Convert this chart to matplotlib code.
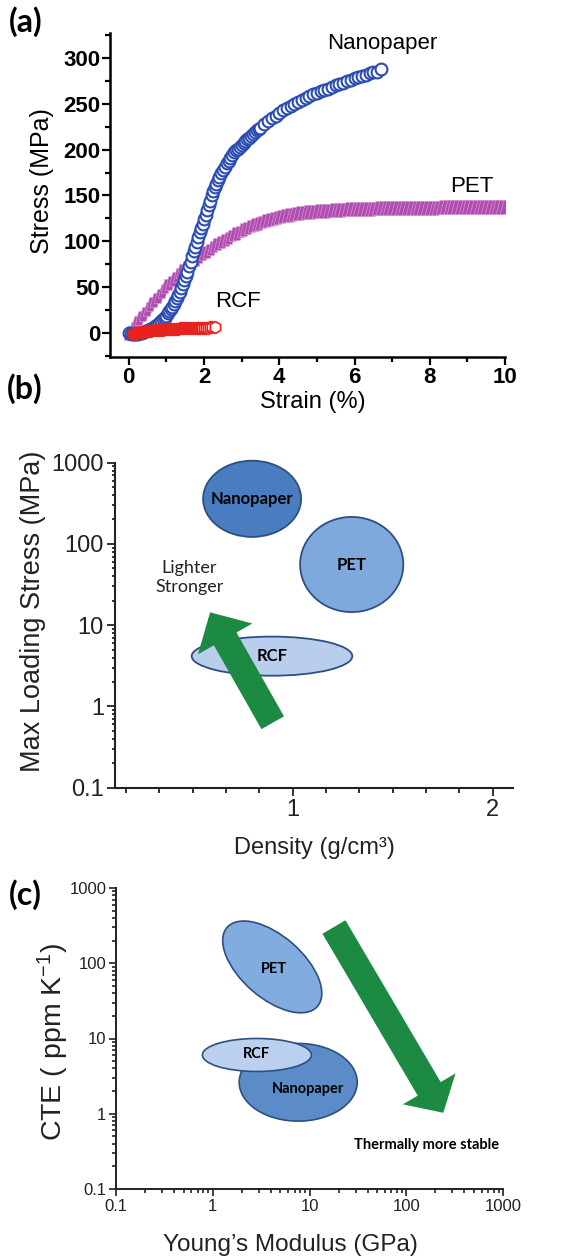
import numpy as np
import matplotlib
matplotlib.use("Agg")
import matplotlib.pyplot as plt
from matplotlib.patches import Ellipse, FancyArrowPatch
from matplotlib.path import Path
from matplotlib.ticker import MultipleLocator, FixedLocator, LogLocator, FuncFormatter, NullFormatter
import matplotlib.transforms as mtransforms

plt.rcParams['mathtext.fontset'] = 'custom'
plt.rcParams['mathtext.rm'] = 'Liberation Sans'
plt.rcParams['mathtext.it'] = 'Liberation Sans:italic'
plt.rcParams['font.family'] = ['Liberation Sans', 'DejaVu Sans']

# ---------------- (a) stress-strain data ----------------
nano_strain = [0.0, 0.05, 0.1, 0.15, 0.2, 0.25, 0.3, 0.35, 0.4, 0.45, 0.5, 0.55, 0.6, 0.65, 0.7,
               0.75, 0.8, 0.85, 0.9, 0.95,
               1.0, 1.04, 1.08, 1.12, 1.16, 1.2, 1.24, 1.28, 1.32, 1.36, 1.4, 1.44, 1.48,
               1.52, 1.56, 1.6, 1.64, 1.68, 1.72, 1.76, 1.8, 1.84, 1.88, 1.92, 1.96, 2.0,
               2.04, 2.08, 2.12, 2.16, 2.2, 2.24, 2.28, 2.32, 2.36, 2.4, 2.45, 2.5, 2.55,
               2.6, 2.65, 2.7, 2.75, 2.8, 2.85, 2.9, 2.95, 3.0, 3.05, 3.1, 3.15, 3.2, 3.25,
               3.3, 3.35, 3.4, 3.45, 3.5, 3.6, 3.7, 3.8, 3.9, 4.0, 4.1, 4.2, 4.3, 4.4, 4.5,
               4.6, 4.7, 4.8, 4.9, 5.0, 5.1, 5.2, 5.3, 5.4, 5.5, 5.6, 5.7, 5.8, 5.9, 6.0,
               6.1, 6.2, 6.3, 6.4, 6.5, 6.6, 6.7]
nano_stress = [0, -1, -1, -1, -1, -1, 0, 0, 1, 2, 3, 4, 5, 6, 8,
               9, 11, 13, 15, 17,
               19, 21.5, 24, 26.5, 29, 32, 35, 38.5, 42, 45, 49, 53, 57.5,
               62, 67, 73, 78, 83.5, 89, 94, 99, 105, 110, 115, 119, 124,
               129, 134.5, 140, 144.5, 150, 155, 159, 163, 166.5, 170, 174, 178, 181.5,
               185, 188, 191, 194, 197, 199, 201, 203, 205, 207, 209, 211, 213, 215,
               217, 219, 221, 222.5, 224, 228, 231, 234, 237, 240, 243, 245, 248, 250, 252,
               254, 256, 258, 260, 262, 264, 265, 266, 268, 270, 271, 273, 275, 276, 278,
               279, 280, 281, 283, 284, 285, 288]

pet_strain = [0.0, 0.1, 0.2, 0.3, 0.4, 0.5, 0.6, 0.7, 0.8, 0.9, 1.0, 1.1, 1.2, 1.3, 1.4,
              1.5, 1.6, 1.7, 1.8, 1.9, 2.0, 2.1, 2.2, 2.3, 2.4, 2.5, 2.6, 2.7, 2.8, 2.9,
              3.0, 3.1, 3.2, 3.3, 3.4, 3.5, 3.6, 3.7, 3.8, 3.9, 4.0, 4.1, 4.2, 4.3, 4.4,
              4.5, 4.6, 4.7, 4.8, 4.9, 5.0, 5.1, 5.2, 5.3, 5.4, 5.5, 5.6, 5.7, 5.8, 5.9,
              6.0, 6.1, 6.2, 6.3, 6.4, 6.5, 6.6, 6.7, 6.8, 6.9, 7.0, 7.1, 7.2, 7.3, 7.4,
              7.5, 7.6, 7.7, 7.8, 7.9, 8.0, 8.1, 8.2, 8.3, 8.4, 8.5, 8.6, 8.7, 8.8, 8.9,
              9.0, 9.1, 9.2, 9.3, 9.4, 9.5, 9.6, 9.7, 9.8, 9.9, 10.0]
pet_stress = [0, 5, 10.5, 16, 21, 26.5, 31.5, 36, 41, 46, 51, 55, 59, 63, 67.5,
              71.5, 75, 78, 81, 84, 87, 90, 93, 95.5, 98, 100.5, 103, 105, 107.5, 109.5,
              112, 114, 116, 117.5, 119, 120.5, 122, 123, 124.5, 125.5, 126.5, 127.5, 128.5, 129, 130,
              130.5, 131, 131.5, 132, 132.5, 133, 133, 133.5, 133.5, 134, 134, 134.5, 134.5, 135, 135,
              135, 135, 135.5, 135.5, 135.5, 135.5, 136, 136, 136, 136, 136, 136, 136, 136, 136.5,
              136.5, 136.5, 136.5, 136.5, 136.5, 136.5, 136.5, 136.5, 137, 137, 137, 137, 137, 137, 137,
              137, 137, 137, 137, 137, 137, 137, 137, 137, 137, 137]

rcf_strain = [0.1, 0.15, 0.2, 0.25, 0.3, 0.35, 0.4, 0.45, 0.5, 0.55, 0.6, 0.65, 0.7, 0.75,
              0.8, 0.85, 0.9, 0.95, 1.0, 1.05, 1.1, 1.15, 1.2, 1.25, 1.3, 1.35, 1.4, 1.45,
              1.5, 1.55, 1.6, 1.65, 1.7, 1.75, 1.8, 1.85, 1.9, 1.95, 2.0, 2.05, 2.1, 2.15,
              2.2, 2.3]
rcf_stress = [-1, -0.5, 0, 0.4, 0.8, 1.2, 1.5, 1.8, 2, 2.3, 2.6, 2.9, 3.1, 3.3,
              3.5, 3.7, 3.9, 4.0, 4.2, 4.35, 4.5, 4.65, 4.8, 4.9, 5.0, 5.1, 5.2, 5.3,
              5.4, 5.5, 5.6, 5.7, 5.8, 5.85, 5.9, 5.95, 6.0, 6.0, 6.1, 6.1, 6.1, 6.2,
              6.2, 6.3]

curve_names = ["Nanopaper", "PET", "RCF"]
curve_label_x = [6.73, 9.12, 2.89]
curve_label_y = [316, 160, 35]

# ---------------- (b) Ashby-type map: density vs max loading stress ----------------
b_names = ["Nanopaper", "PET", "RCF"]
b_density_lo = [0.552, 1.037, 0.495]
b_density_hi = [1.042, 1.553, 1.298]
b_stress_lo = [122, 14.5, 2.39]
b_stress_hi = [1059, 215, 7.24]
b_arrow_tail = (0.90, 0.63)
b_arrow_tip = (0.587, 14.4)
b_note = "Lighter\nStronger"
b_note_xy = (0.484, 38.8)

# ---------------- (c) Young's modulus vs CTE ----------------
c_names = ["PET", "Nanopaper", "RCF"]
c_modulus = [4.12, 7.64, 2.86]
c_cte = [89.4, 2.62, 6.04]
c_label_modulus = [4.25, 9.65, 2.86]
c_label_cte = [85.0, 2.13, 6.2]
c_arrow_tail = (17.9, 303)
c_arrow_tip = (241.5, 1.03)
c_note = "Thermally more stable"
c_note_xy = (162.6, 0.385)

# ---------------- styles ----------------
W, H = 579, 1258
fig = plt.figure(figsize=(W / 100, H / 100), dpi=100)

def box(l, r, t, b):
    return [l / W, 1 - b / H, (r - l) / W, (b - t) / H]

ax_a = fig.add_axes(box(110, 505, 33, 357))
ax_b = fig.add_axes(box(115, 513, 462.7, 787.7))
ax_c = fig.add_axes(box(116, 503, 888, 1189))

for ax in (ax_a, ax_b, ax_c):
    ax.spines['top'].set_visible(False)
    ax.spines['right'].set_visible(False)
    ax.set_facecolor('none')

calibri = ['Lato', 'DejaVu Sans']
edge_blue = '#2d4f82'
green = '#1d8a43'

# slanted parallelogram marker for PET
para = Path([(-0.75, -1), (0.25, -1), (0.75, 1), (-0.25, 1), (-0.75, -1)],
            [Path.MOVETO, Path.LINETO, Path.LINETO, Path.LINETO, Path.CLOSEPOLY])

# ---------- (a) ----------
ax_a.plot(pet_strain, pet_stress, linestyle='none', marker=para, ms=10,
          mfc='#b04db0', mec='#d89ad6', mew=0.45, zorder=2)
ax_a.plot(nano_strain, nano_stress, linestyle='none', marker='o', ms=8.5,
          mfc='white', mec='#2b4db3', mew=1.5, zorder=3)
rs = np.array(rcf_strain); rv = np.array(rcf_stress)
solid = rs < 1.95
ax_a.plot(rs[solid], rv[solid], linestyle='none', marker='h', ms=8.5,
          mfc='#e8231e', mec='#e8231e', mew=1.2, zorder=4)
ax_a.plot(rs[~solid], rv[~solid], linestyle='none', marker='h', ms=8.5,
          mfc='white', mec='#e8231e', mew=1.2, zorder=4)
for n, x, y in zip(curve_names, curve_label_x, curve_label_y):
    ax_a.text(x, y, n, ha='center', va='center', fontsize=16)
ax_a.set_xlim(-0.5, 10)
ax_a.set_ylim(-26, 327)
ax_a.xaxis.set_major_locator(MultipleLocator(2))
ax_a.xaxis.set_minor_locator(MultipleLocator(1))
ax_a.yaxis.set_major_locator(MultipleLocator(50))
ax_a.yaxis.set_minor_locator(MultipleLocator(25))
ax_a.tick_params(which='both', direction='out', width=1.6, labelsize=16, pad=1)
ax_a.tick_params(which='major', length=6)
ax_a.tick_params(which='minor', length=3.5)
for lab in ax_a.get_xticklabels() + ax_a.get_yticklabels():
    lab.set_fontweight('bold')
for s in ('left', 'bottom'):
    ax_a.spines[s].set_linewidth(1.8)
ax_a.set_ylabel("Stress (MPa)", fontsize=18, va='center', ha='center')
ax_a.yaxis.set_label_coords(-0.172, 0.543)
ax_a.set_xlabel("Strain (%)", fontsize=17, va='center', ha='center')
ax_a.xaxis.set_label_coords(0.514, -0.139)

# ---------- (b) ----------
ax_b.set_yscale('log')
ax_b.set_xlim(0.1115, 2.1015)
ax_b.set_ylim(0.1, 1000)
b_fill = ['#4a7cc0', '#7fa9dc', '#b8ceec']
for n, x0, x1, y0, y1, fc in zip(b_names, b_density_lo, b_density_hi,
                                 b_stress_lo, b_stress_hi, b_fill):
    cx = (x0 + x1) / 2
    ly0, ly1 = np.log10(y0), np.log10(y1)
    e = Ellipse((cx, (ly0 + ly1) / 2), x1 - x0, ly1 - ly0,
                transform=ax_b.transLimits + ax_b.transAxes,
                facecolor=fc, edgecolor=edge_blue, linewidth=1.3, zorder=2,
                clip_on=False)
    ax_b.add_patch(e)
    ax_b.text(cx, 10 ** ((ly0 + ly1) / 2), n, ha='center', va='center',
              fontsize=12, fontweight='bold', family=calibri, zorder=5)
arr_b = FancyArrowPatch(b_arrow_tail, b_arrow_tip,
                        arrowstyle='simple,head_length=22,head_width=45,tail_width=18.7',
                        mutation_scale=1, shrinkA=0, shrinkB=0,
                        facecolor=green, edgecolor='none', zorder=4)
ax_b.add_patch(arr_b)
ax_b.text(b_note_xy[0], b_note_xy[1], b_note, ha='center', va='center',
          fontsize=13, family=calibri, linespacing=1.25, color='#222222')
ax_b.xaxis.set_major_locator(FixedLocator([1, 2]))
ax_b.xaxis.set_minor_locator(MultipleLocator(1 / 6))
ax_b.yaxis.set_major_locator(LogLocator(base=10, numticks=10))
ax_b.yaxis.set_minor_locator(LogLocator(base=10, subs=np.arange(2, 10), numticks=10))
ax_b.yaxis.set_major_formatter(FuncFormatter(lambda v, _: f"{v:g}"))
ax_b.yaxis.set_minor_formatter(NullFormatter())
ax_b.tick_params(which='both', direction='out', width=1.3, labelsize=17,
                 colors='#222222', pad=2)
ax_b.tick_params(which='major', length=6)
ax_b.tick_params(which='minor', length=3.5)
ax_b.tick_params(axis='y', which='minor', length=2.5)
for s in ('left', 'bottom'):
    ax_b.spines[s].set_linewidth(1.5)
    ax_b.spines[s].set_color('#222222')
ax_b.set_ylabel("Max Loading Stress (MPa)", fontsize=19.5, va='center', ha='center',
                color='#222222')
ax_b.yaxis.set_label_coords(-0.206, 0.544)
ax_b.set_xlabel("Density (g/cm³)", fontsize=17, va='center', ha='center',
                color='#222222')
ax_b.xaxis.set_label_coords(0.5, -0.186)

# ---------- (c) ----------
ax_c.set_xscale('log')
ax_c.set_yscale('log')
ax_c.set_xlim(0.1, 1000)
ax_c.set_ylim(0.1, 1000)
c_fill = ['#82abdf', '#5b8cc8', '#bad0ee']
c_w_in = [1.20, 1.18, 1.09]
c_h_in = [0.62, 0.777, 0.33]
c_angle = [-41.2, 0, 0]
for n, cx, cy, lx, ly, fc, w, h, a in zip(c_names, c_modulus, c_cte, c_label_modulus,
                                         c_label_cte, c_fill, c_w_in, c_h_in, c_angle):
    tr = fig.dpi_scale_trans + mtransforms.ScaledTranslation(cx, cy, ax_c.transData)
    e = Ellipse((0, 0), w, h, angle=a, transform=tr, facecolor=fc,
                edgecolor=edge_blue, linewidth=1.2, zorder=2)
    ax_c.add_patch(e)
    ax_c.text(lx, ly, n, ha='center', va='center', fontsize=10.5,
              fontweight='bold', family=calibri, zorder=5)
arr_c = FancyArrowPatch(c_arrow_tail, c_arrow_tip,
                        arrowstyle='simple,head_length=20,head_width=44,tail_width=19.2',
                        mutation_scale=1, shrinkA=0, shrinkB=0,
                        facecolor=green, edgecolor='none', zorder=4)
ax_c.add_patch(arr_c)
ax_c.text(c_note_xy[0], c_note_xy[1], c_note, ha='center', va='center',
          fontsize=10.5, fontweight='bold', family=calibri)
for axis in (ax_c.xaxis, ax_c.yaxis):
    axis.set_major_locator(LogLocator(base=10, numticks=10))
    axis.set_minor_locator(LogLocator(base=10, subs=np.arange(2, 10), numticks=10))
    axis.set_major_formatter(FuncFormatter(lambda v, _: f"{v:g}"))
    axis.set_minor_formatter(NullFormatter())
ax_c.tick_params(which='both', direction='out', width=1.2, labelsize=12,
                 colors='#222222', pad=2)
ax_c.tick_params(which='major', length=5)
ax_c.tick_params(which='minor', length=3)
for s in ('left', 'bottom'):
    ax_c.spines[s].set_linewidth(1.4)
    ax_c.spines[s].set_color('#222222')
ax_c.set_ylabel(r"CTE ( ppm K$^{-1}$)", fontsize=20.5, va='center', ha='center',
                color='#222222')
ax_c.yaxis.set_label_coords(-0.163, 0.488)
ax_c.set_xlabel("Young’s Modulus (GPa)", fontsize=17.5, va='center', ha='center',
                color='#222222')
ax_c.xaxis.set_label_coords(0.45, -0.186)

# panel letters
for lab, (px, py) in zip(["(a)", "(b)", "(c)"], [(26, 22), (25, 389), (25, 895)]):
    fig.text(px / W, 1 - py / H, lab, ha='center', va='center', fontsize=23,
             fontweight='bold', family=calibri)

fig.savefig("out.png", dpi=100)
